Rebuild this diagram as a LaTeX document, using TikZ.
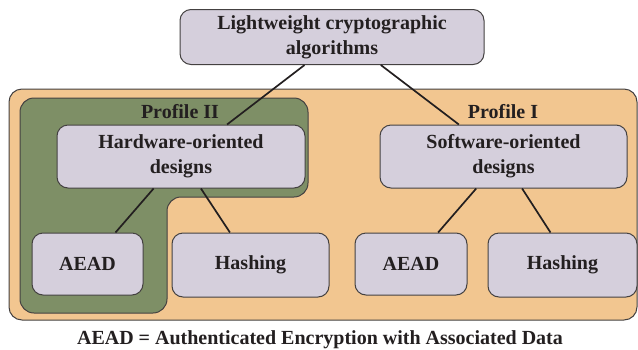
\documentclass[tikz,border=0pt]{standalone}
\usepackage{fontspec}
\setmainfont{Liberation Serif}
\usetikzlibrary{calc}
\definecolor{orangebg}{HTML}{F2C690}
\definecolor{greenbg}{HTML}{7E8F66}
\definecolor{boxfill}{HTML}{D5CFDC}
\definecolor{inkc}{HTML}{231F20}
\begin{document}
\begin{tikzpicture}[x=1pt,y=-1pt,
  box/.style={draw=inkc!85, line width=1pt, fill=boxfill, rounded corners=11pt,
    align=center, inner sep=0pt, font=\fontsize{20}{25}\selectfont\bfseries, text=inkc},
  lbl/.style={font=\fontsize{20}{24}\selectfont\bfseries, text=inkc, inner sep=0pt},
  link/.style={draw=inkc, line width=1.7pt}]
\useasboundingbox (0,0) rectangle (638,349);
% orange region
\draw[draw=inkc!85, line width=1pt, fill=orangebg, rounded corners=13pt] (9,89) rectangle (637,320);
% green region
\draw[draw=inkc!85, line width=1pt, fill=greenbg, rounded corners=14pt]
  (20,200) -- (20,98) -- (308,98) -- (308,197) -- (167,197) -- (167,313) -- (20,313) -- cycle;
\node[lbl] (p2) at (180,112) {Profile II};
\node[lbl] (p1) at (503,112) {Profile I};
% nodes
\node[box, minimum width=304pt, minimum height=55pt] (top) at (332,37) {Lightweight cryptographic\\algorithms};
\node[box, minimum width=248pt, minimum height=63pt] (hw) at (181,156.5) {Hardware-oriented\\designs};
\node[box, minimum width=247pt, minimum height=63pt] (sw) at (503.5,156.5) {Software-oriented\\designs};
\node[box, minimum width=111pt, minimum height=62pt] (aeadL) at (87.5,264) {AEAD};
\node[box, minimum width=157pt, minimum height=64pt] (hashL) at (250.5,265) {Hashing};
\node[box, minimum width=112pt, minimum height=62pt] (aeadR) at (411,264) {AEAD};
\node[box, minimum width=149pt, minimum height=64pt] (hashR) at (562.5,265) {Hashing};
% links
\draw[link] ($(top.south west)!0.41!(top.south east)$) -- ($(hw.north west)!0.685!(hw.north east)$);
\draw[link] ($(top.south west)!0.66!(top.south east)$) -- ($(sw.north west)!0.32!(sw.north east)$);
\draw[link] ($(hw.south west)!0.39!(hw.south east)$) -- ($(aeadL.north west)!0.75!(aeadL.north east)$);
\draw[link] ($(hw.south west)!0.58!(hw.south east)$) -- ($(hashL.north west)!0.37!(hashL.north east)$);
\draw[link] ($(sw.south west)!0.39!(sw.south east)$) -- ($(aeadR.north west)!0.74!(aeadR.north east)$);
\draw[link] ($(sw.south west)!0.575!(sw.south east)$) -- ($(hashR.north west)!0.42!(hashR.north east)$);
% caption
\node[lbl] (cap) at (320,340) {AEAD = Authenticated Encryption with Associated Data};
\end{tikzpicture}
\end{document}
